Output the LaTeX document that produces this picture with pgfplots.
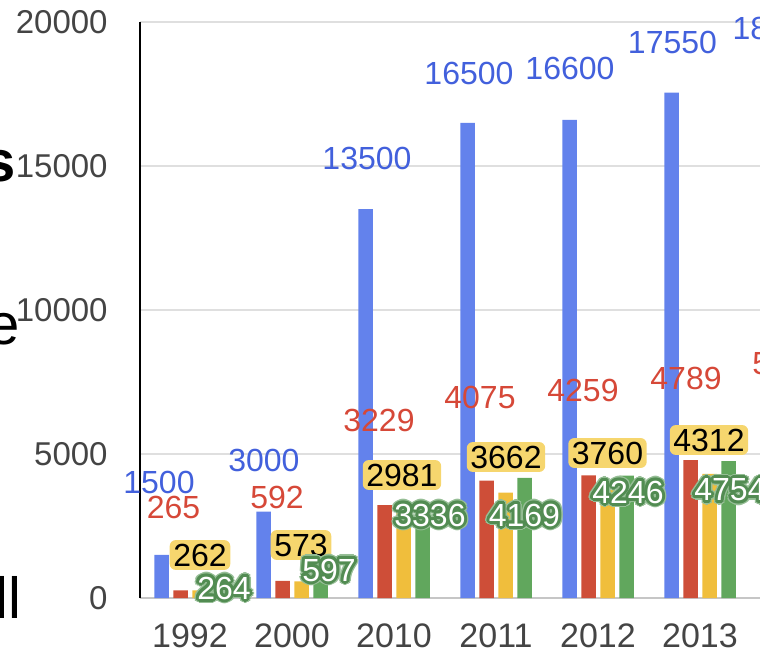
\documentclass[border=0pt]{standalone}
\usepackage{fontspec}
\setmainfont{Liberation Sans}
\usepackage{pgfplots}
\pgfplotsset{compat=1.18}
\definecolor{gblue}{RGB}{99,130,236}
\definecolor{gred}{RGB}{206,78,56}
\definecolor{gyellow}{RGB}{240,190,60}
\definecolor{ggreen}{RGB}{97,167,93}
\definecolor{lblue}{RGB}{66,96,220}
\definecolor{lred}{RGB}{214,72,56}
\definecolor{yglow}{RGB}{246,214,110}
\definecolor{ghalo}{RGB}{82,140,82}
\definecolor{ghaloout}{RGB}{150,190,150}
\definecolor{tickgray}{RGB}{68,68,68}
\newcommand\halo[3]{%
  \leavevmode\hbox{%
    \foreach \r/\c in {2.2/ghaloout,1.5/#1,0.8/#1}{%
    \foreach \a in {0,30,...,330}{%
      \pgfmathsetlengthmacro\dx{\r pt*cos(\a)}%
      \pgfmathsetlengthmacro\dy{\r pt*sin(\a)}%
      \rlap{\kern\dx\raise\dy\hbox{\color{\c}#3}}%
    }}%
    \textcolor{#2}{#3}}}
\begin{document}
\begin{tikzpicture}
\path[use as bounding box, clip] (0,0) rectangle (380pt,-325.5pt);
\node[anchor=base east, inner sep=0pt, font=\fontsize{29}{32}\selectfont\bfseries] at (8pt,-91pt) {s};
\node[anchor=base east, inner sep=0pt, font=\fontsize{29}{32}\selectfont] at (10pt,-172.5pt) {e};
\node[anchor=base east, inner sep=0pt, font=\fontsize{29}{32}\selectfont] at (11pt,-309pt) {ll};
\begin{axis}[
  anchor=south west, at={(70pt,-299pt)},
  scale only axis, width=356.5pt, height=288pt,
  xmin=-0.4902, xmax=6.5, ymin=0, ymax=20000,
  axis lines*=left,
  x axis line style={draw=gray!45, line width=1pt},
  y axis line style={draw=black, line width=0.8pt},
  ymajorgrids, grid style={draw=gray!25, line width=1pt},
  major tick length=0pt,
  clip=false,
  xtick={0,1,2,3,4,5},
  xticklabels={1992,2000,2010,2011,2012,2013},
  ytick={0,5000,10000,15000,20000},
  scaled y ticks=false,
  /pgf/number format/assume math mode=true,
  yticklabel style={/pgf/number format/fixed, /pgf/number format/1000 sep={},
     anchor=east, inner sep=0pt, xshift=-16pt, text=tickgray,
     font=\fontsize{16.5}{18}\selectfont},
  xticklabel style={anchor=north, inner sep=0pt, yshift=-12.5pt, text=tickgray,
     font=\fontsize{17}{18}\selectfont},
]
% bars
\addplot[ybar, bar width=7.25pt, bar shift=-14.25pt, fill=gblue, draw=none]
  coordinates {(0,1500) (1,3000) (2,13500) (3,16500) (4,16600) (5,17550) (6,18000)};
\addplot[ybar, bar width=7.25pt, bar shift=-4.75pt, fill=gred, draw=none]
  coordinates {(0,265) (1,592) (2,3229) (3,4075) (4,4259) (5,4789) (6,5300)};
\addplot[ybar, bar width=7.25pt, bar shift=4.75pt, fill=gyellow, draw=none]
  coordinates {(0,262) (1,573) (2,2981) (3,3662) (4,3760) (5,4312)};
\addplot[ybar, bar width=7.25pt, bar shift=14.25pt, fill=ggreen, draw=none]
  coordinates {(0,264) (1,597) (2,3336) (3,4169) (4,4246) (5,4754)};
% labels
\addplot[only marks, mark=none, nodes near coords, point meta=explicit symbolic,
  every node near coord/.style={anchor=center, text=lblue, inner sep=0pt, font=\fontsize{16}{18}\selectfont}]
  coordinates {(-0.304,4028) [1500] (0.725,4792) [3000] (1.735,15278) [13500]
   (2.735,18229) [16500] (3.725,18403) [16600] (4.730,19306) [17550] (5.755,19792) [18000]};
\addplot[only marks, mark=none, nodes near coords, point meta=explicit symbolic,
  every node near coord/.style={anchor=center, text=lred, inner sep=0pt, font=\fontsize{16}{18}\selectfont}]
  coordinates {(-0.162,3160) [265] (0.853,3507) [592] (1.853,6181) [3229]
   (2.843,6979) [4075] (3.853,7222) [4259] (4.863,7639) [4789] (5.863,8160) [5300]};
\addplot[only marks, mark=none, nodes near coords, point meta=explicit symbolic,
  every node near coord/.style={anchor=center, text=black, fill=yglow, rounded corners=3pt,
    inner sep=1.8pt, font=\fontsize{16}{18}\selectfont}]
  coordinates {(0.098,1493) [262] (1.088,1840) [573] (2.078,4271) [2981]
   (3.098,4896) [3662] (4.093,5035) [3760] (5.088,5486) [4312]};
\addplot[only marks, mark=none, point meta=explicit symbolic,
  nodes near coords={\halo{ghalo}{white}{\pgfplotspointmeta}},
  every node near coord/.style={anchor=center, inner sep=0pt, font=\fontsize{16}{18}\selectfont}]
  coordinates {(0.333,347) [264] (1.363,972) [597] (2.353,2882) [3336]
   (3.279,2882) [4169] (4.294,3681) [4246] (5.294,3750) [4754]};
\end{axis}
\end{tikzpicture}
\end{document}
